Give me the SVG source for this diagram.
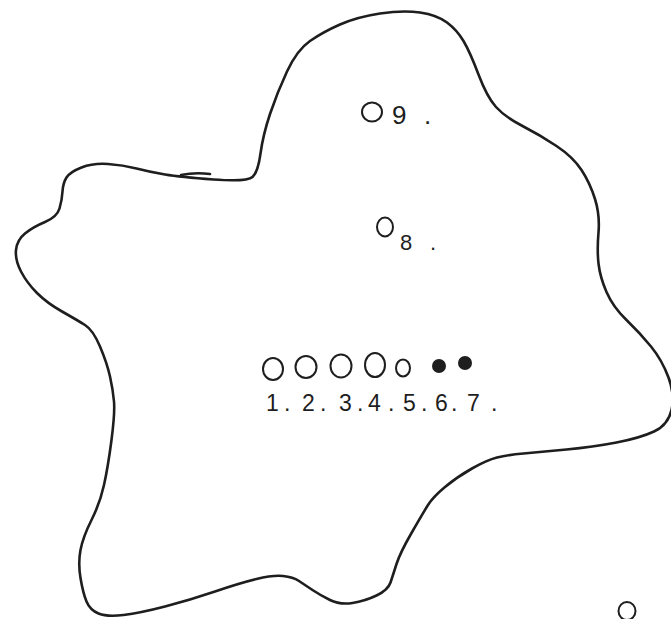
<svg xmlns="http://www.w3.org/2000/svg" width="671" height="619" viewBox="0 0 671 619">
<style>
.outline{fill:none;stroke:#1e1e1e;stroke-width:2.6;stroke-linecap:round;stroke-linejoin:round}
.ring{fill:none;stroke:#1e1e1e;stroke-width:2}
.dot{fill:#1e1e1e}
.lbl{font-family:"Liberation Sans",Arial,sans-serif;fill:#1e1e1e}
</style>
<rect width="671" height="619" fill="#ffffff"/>
<g id="outline">
<path class="outline" d="M165,174.5 Q180,177 213.5,179.5 Q247,182 252.5,177 Q258,172 260.5,153.5 Q263,135 270,114 Q277,93 287,71.5 Q297,50 310,41 Q323,32 340,24.5 Q357,17 380,13.5 Q403,10 420,12.5 Q437,15 447,22.5 Q457,30 463.5,41 Q470,52 478.5,74.5 Q487,97 496,107 Q505,117 522.5,126 Q540,135 556.5,146 Q573,157 581.5,170 Q590,183 595,199 Q600,215 598.5,232.5 Q597,250 598.5,263.5 Q600,277 606.5,292 Q613,307 626.5,320 Q640,333 651,346.5 Q662,360 668.5,377.5 Q675,395 671.5,410 Q668,425 654,431.5 Q640,438 616.5,442.5 Q593,447 566.5,449.5 Q540,452 523.5,453.5 Q507,455 497,457.5 Q487,460 472,468.5 Q457,477 445,487 Q433,497 428,505 Q423,513 411.5,533 Q400,553 396.5,564 Q393,575 390.5,582.5 Q388,590 376.5,595.5 Q365,601 352.5,603 Q340,605 330,600 Q320,595 312.5,590 Q305,585 299,581 Q293,577 283,576 Q273,575 256.5,579 Q240,583 215,591.5 Q190,600 165,606.5 Q140,613 123.5,615 Q107,617 98.5,613.5 Q90,610 86.5,601.5 Q83,593 80.5,578 Q78,563 80.5,550 Q83,537 91.5,520 Q100,503 104,485 Q108,467 111.5,440 Q115,413 114,401.5 Q113,390 110,376.5 Q107,363 100,346.5 Q93,330 85,325 Q77,320 62,311.5 Q47,303 37,293 Q27,283 21,271.5 Q15,260 16,250 Q17,240 25,233.5 Q33,227 45,222 Q57,217 59.5,208.5 Q62,200 62.5,191.5 Q63,183 66.5,177.5 Q70,172 81.5,167.5 Q93,163 108,164 Q123,165 136.5,168.5 Q150,172 165,174.5 Z"/>
<path class="outline" stroke-width="1.6" d="M181,175 Q195,172 210,174"/>
</g>
<g id="n9">
<ellipse class="ring" cx="372" cy="112" rx="10" ry="9.5"/>
<text class="lbl" font-size="26" x="392 424" y="124">9.</text>
</g>
<g id="n8">
<ellipse class="ring" cx="385" cy="227" rx="8" ry="9.5"/>
<text class="lbl" font-size="22" x="400 430" y="250">8.</text>
</g>
<g id="row">
<ellipse class="ring" cx="273" cy="369" rx="10" ry="11"/>
<ellipse class="ring" cx="306" cy="367" rx="10.5" ry="11"/>
<ellipse class="ring" cx="341" cy="366" rx="10.5" ry="11.5"/>
<ellipse class="ring" cx="375" cy="365" rx="10" ry="12"/>
<ellipse class="ring" cx="403" cy="368" rx="7" ry="8.5"/>
<circle class="dot" cx="439" cy="366" r="7"/>
<circle class="dot" cx="465" cy="363" r="7"/>
</g>
<g id="numbers">
<text class="lbl" font-size="23" x="266 284 302 320 339 357 368 388 403 421 435 451 467 491" y="411">1.2.3.4.5.6.7.</text>
</g>
<g id="lone">
<ellipse class="ring" cx="627" cy="611" rx="8.5" ry="9"/>
</g>
</svg>
